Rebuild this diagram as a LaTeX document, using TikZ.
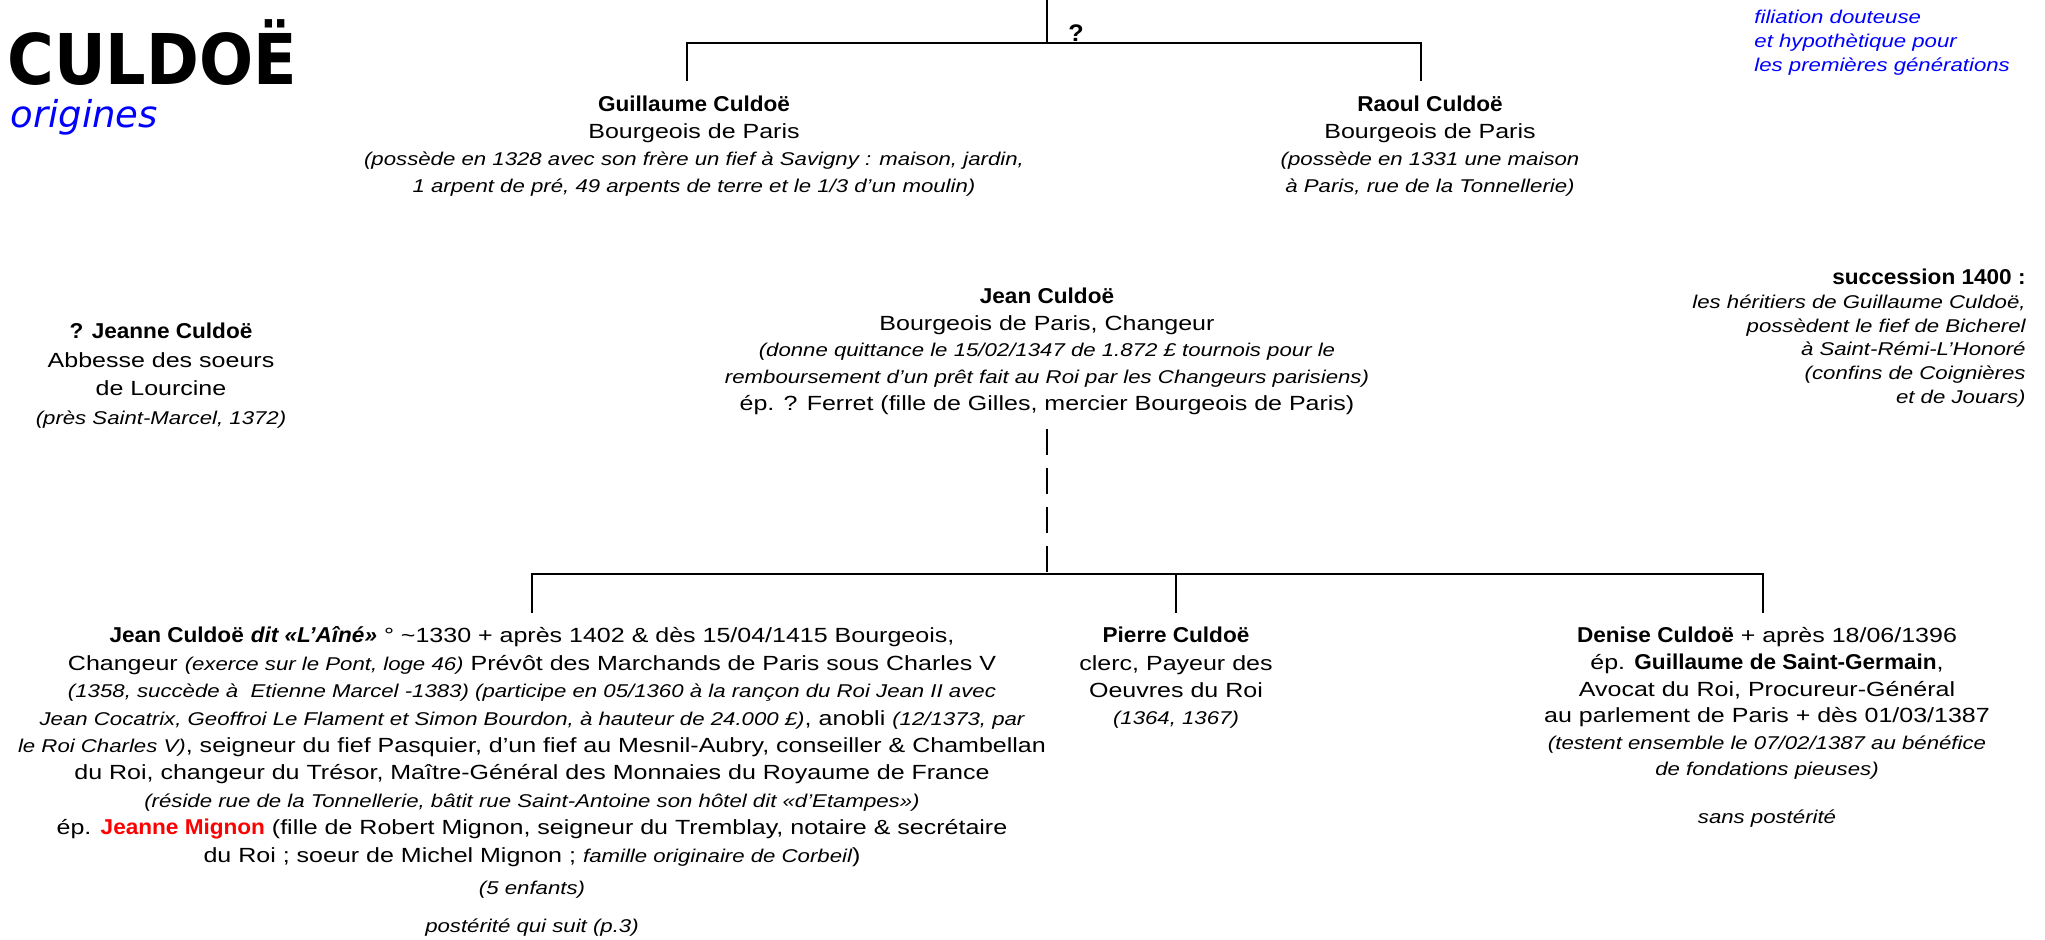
\documentclass[tikz,border=0pt]{standalone}
\usepackage{fontspec}
\setmainfont{Liberation Sans}
\newfontfamily\rgfont[FakeStretch=1.22]{Liberation Sans}
\newfontfamily\itfont[FakeStretch=1.2]{Liberation Sans}
\newfontfamily\bdfont[FakeStretch=1.05]{Liberation Sans}
\newfontfamily\ttlfont[FakeStretch=0.91]{DejaVu Sans}
\newfontfamily\orgfont{DejaVu Sans}
\definecolor{pblue}{RGB}{0,0,255}
\definecolor{pred}{RGB}{255,0,0}
\newcommand\rg{\rgfont\fontsize{10.25pt}{13.6pt}\selectfont}
\newcommand\tI[1]{{\itfont\itshape\fontsize{9.25pt}{13.6pt}\selectfont #1}}
\newcommand\tB[1]{{\bdfont\bfseries\upshape\fontsize{10.75pt}{13.6pt}\selectfont #1}}
\newcommand\tBI[1]{{\bdfont\bfseries\itshape\fontsize{10.75pt}{13.6pt}\selectfont #1}}
\newcommand\tp{\rule{0pt}{10pt}}
\tikzset{
  blk/.style={inner sep=0pt, align=center, anchor=north},
  ln/.style={line width=1.25pt, draw=black},
  dashln/.style={ln, dash pattern=on 13pt off 6.5pt}
}
\begin{document}
\begin{tikzpicture}[x=0.5pt, y=-0.5pt]
\useasboundingbox (0,0) rectangle (2045,940);

% title
\node[anchor=base west, inner sep=0pt] (title) at (7,85)
  {\ttlfont\bfseries\fontsize{35pt}{38pt}\selectfont CULDOË};
\node[anchor=base west, inner sep=0pt, text=pblue] (orig) at (10,128)
  {\orgfont\itshape\fontsize{18.5pt}{20pt}\selectfont origines};

% note top right
\node[inner sep=0pt, align=left, anchor=north west, text=pblue,
      font={\itfont\itshape\fontsize{9.25pt}{12pt}\selectfont}] (note) at (1754,3)
  {\tp filiation douteuse\\ et hypothètique pour\\ les premières générations};

% succession note
\node[inner sep=0pt, align=right, anchor=north east,
      font={\itfont\itshape\fontsize{9.25pt}{11.85pt}\selectfont}] (succ) at (2026,264.5)
  {\tp\tB{succession 1400 :}\\ les héritiers de Guillaume Culdoë,\\ possèdent le fief de Bicherel\\ à Saint-Rémi-L’Honoré\\ (confins de Coignières\\ et de Jouars)};

% question mark
\node[anchor=base, inner sep=0pt] (qm) at (1076,42)
  {\bdfont\bfseries\fontsize{12pt}{13pt}\selectfont ?};

% generation 1
\node[blk, font={\rg\baselineskip=13.5pt}] (guil) at (694,91.5)
  {\tp\tB{Guillaume Culdoë}\\
   Bourgeois de Paris\\
   \tI{(possède en 1328 avec son frère un fief à Savigny : maison, jardin,}\\
   \tI{1 arpent de pré, 49 arpents de terre et le 1/3 d’un moulin)}};
\node[blk, font={\rg\baselineskip=13.5pt}] (raoul) at (1430,91.5)
  {\tp\tB{Raoul Culdoë}\\
   Bourgeois de Paris\\
   \tI{(possède en 1331 une maison}\\
   \tI{à Paris, rue de la Tonnellerie)}};

% generation 2
\node[blk, font={\rg\baselineskip=14.4pt}] (jeanne) at (161,318)
  {\tp\tB{? Jeanne Culdoë}\\
   Abbesse des soeurs\\
   de Lourcine\\
   \tI{(près Saint-Marcel, 1372)}};
\node[blk, font={\rg\baselineskip=13.4pt}] (jean) at (1047,283)
  {\tp\tB{Jean Culdoë}\\
   Bourgeois de Paris, Changeur\\
   \tI{(donne quittance le 15/02/1347 de 1.872 £ tournois pour le}\\
   \tI{remboursement d’un prêt fait au Roi par les Changeurs parisiens)}\\
   ép. ? Ferret (fille de Gilles, mercier Bourgeois de Paris)};

% generation 3
\node[blk, font={\rg\baselineskip=13.7pt}] (aine) at (532,622.5)
  {\tp\tB{Jean Culdoë} \tBI{dit «L’Aîné»} ° \textasciitilde1330 + après 1402 \& dès 15/04/1415 Bourgeois,\\
   Changeur \tI{(exerce sur le Pont, loge 46)} Prévôt des Marchands de Paris sous Charles V\\
   \tI{(1358, succède à\ \ Etienne Marcel -1383) (participe en 05/1360 à la rançon du Roi Jean II avec}\\
   \tI{Jean Cocatrix, Geoffroi Le Flament et Simon Bourdon, à hauteur de 24.000 £)}, anobli \tI{(12/1373, par}\\
   \tI{le Roi Charles V)}, seigneur du fief Pasquier, d’un fief au Mesnil-Aubry, conseiller \& Chambellan\\
   du Roi, changeur du Trésor, Maître-Général des Monnaies du Royaume de France\\
   \tI{(réside rue de la Tonnellerie, bâtit rue Saint-Antoine son hôtel dit «d’Etampes»)}\\
   ép. \textcolor{pred}{\tB{Jeanne Mignon}} (fille de Robert Mignon, seigneur du Tremblay, notaire \& secrétaire\\
   du Roi ; soeur de Michel Mignon ; \tI{famille originaire de Corbeil})\\[2.3pt]
   \tI{(5 enfants)}\\[5.3pt]
   \tI{postérité qui suit (p.3)}};
\node[blk, font={\rg\baselineskip=13.65pt}] (pierre) at (1176,622.5)
  {\tp\tB{Pierre Culdoë}\\
   clerc, Payeur des\\
   Oeuvres du Roi\\
   \tI{(1364, 1367)}};
\node[blk, font={\rg\baselineskip=13.3pt}] (denise) at (1767,622.5)
  {\tp\tB{Denise Culdoë} + après 18/06/1396\\
   ép. \tB{Guillaume de Saint-Germain},\\
   Avocat du Roi, Procureur-Général\\
   au parlement de Paris + dès 01/03/1387\\
   \tI{(testent ensemble le 07/02/1387 au bénéfice}\\
   \tI{de fondations pieuses)}\\[10.5pt]
   \tI{sans postérité}};

% connectors, top
\coordinate (top) at (1047,0);
\coordinate (j1) at (1047,43);
\coordinate (gd) at (687,81);
\coordinate (rd) at (1421,81);
\draw[ln] (top) -- (j1);
\draw[ln] (gd) |- (j1) -| (rd);

% connectors, bottom
\coordinate (jb) at (1047,429);
\coordinate (jd) at (1047,574);
\coordinate (ad) at (532,613);
\coordinate (pd) at (1176,613);
\coordinate (dd) at (1763,613);
\draw[dashln] (jb) -- (jd);
\draw[ln] (ad) |- (jd) -| (dd);
\draw[ln] (pd) -- (pd |- jd);
\end{tikzpicture}
\end{document}
